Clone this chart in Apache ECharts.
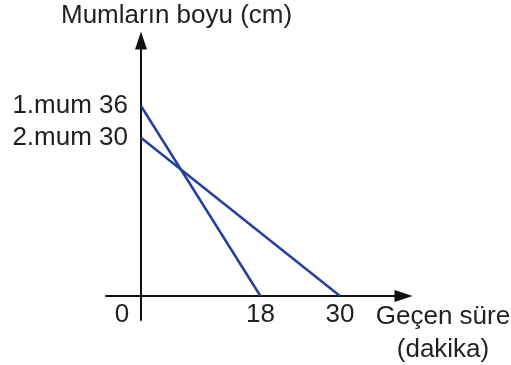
<!DOCTYPE html>
<html>
<head>
<meta charset="utf-8">
<style>
  html, body { margin: 0; padding: 0; background: #fff; }
  #chart { width: 511px; height: 365px; }
</style>
<script src="https://cdn.jsdelivr.net/npm/echarts@6/dist/echarts.min.js"></script>
</head>
<body>
<div id="chart"></div>
<script>
// Candle heights over time
var candleNames = ['1.mum', '2.mum'];
var startHeights = [36, 30];      // cm at t = 0
var burnOutTimes = [18, 30];      // minutes until height reaches 0
var xTickValues = [0, 18, 30];
var yTickValues = [30, 36];
var yAxisTitle = 'Mumların boyu (cm)';
var xAxisTitle = 'Geçen süre\n(dakika)';

var FONT = 'Liberation Sans, Arial, sans-serif';
var TEXT = '#231f20';
var LINE = '#25409a';

var series = candleNames.map(function (name, i) {
  return {
    name: name,
    type: 'line',
    data: [[0, startHeights[i]], [burnOutTimes[i], 0]],
    symbol: 'none',
    lineStyle: { color: LINE, width: 2.5 },
    silent: true,
    z: 1
  };
});

var chart = echarts.init(document.getElementById('chart'), null, { renderer: 'canvas' });
chart.setOption({
  animation: false,
  backgroundColor: '#fff',
  grid: { left: 106, right: 107.5, top: 40.5, bottom: 45, containLabel: false, outerBoundsMode: 'none' },
  xAxis: {
    type: 'value',
    min: -5.277,
    max: 39.57,
    splitLine: { show: false },
    axisTick: { show: false },
    axisLine: {
      onZero: true,
      symbol: ['none', 'triangle'],
      symbolSize: [12, 18],
      lineStyle: { color: '#111', width: 2 }
    },
    axisLabel: {
      customValues: xTickValues,
      // labels sit on the grid edge, pull them up to the zero line
      margin: -18,
      color: TEXT,
      fontFamily: FONT,
      fontSize: 26,
      formatter: function (v) {
        return v === 0 ? '{zero|0}' : String(v);
      },
      rich: {
        zero: { fontFamily: FONT, fontSize: 26, color: TEXT, padding: [0, 38, 0, 0] }
      }
    }
  },
  yAxis: {
    type: 'value',
    min: -4.547,
    max: 48.41,
    splitLine: { show: false },
    axisTick: { show: false },
    axisLine: {
      onZero: true,
      symbol: ['none', 'triangle'],
      symbolSize: [12, 18],
      lineStyle: { color: '#111', width: 2 }
    },
    axisLabel: {
      customValues: yTickValues,
      margin: -22,
      color: TEXT,
      fontFamily: FONT,
      fontSize: 26,
      formatter: function (v) {
        var i = startHeights.indexOf(v);
        return i >= 0 ? candleNames[i] + ' ' + v : '';
      }
    }
  },
  graphic: [
    {
      type: 'text',
      left: 61, top: 3,
      style: { text: yAxisTitle, fontFamily: FONT, fontSize: 26, fill: TEXT }
    },
    {
      type: 'text',
      x: 443, y: 300,
      style: {
        text: xAxisTitle, fontFamily: FONT, fontSize: 26, fill: TEXT,
        align: 'center', verticalAlign: 'top', lineHeight: 33
      }
    }
  ],
  series: series
});
</script>
</body>
</html>
